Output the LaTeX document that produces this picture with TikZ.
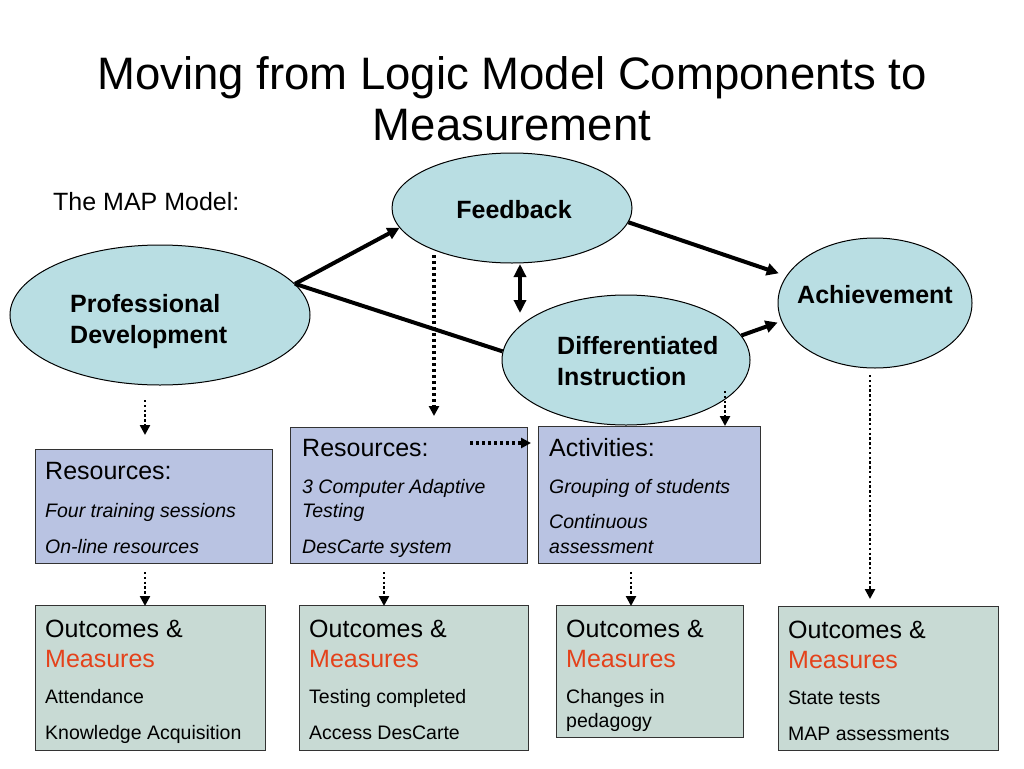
\documentclass[tikz,border=0pt]{standalone}
\usepackage{fontspec}
\setmainfont{Liberation Sans}
\usetikzlibrary{shapes.geometric,arrows.meta}
\definecolor{ellfill}{HTML}{B9DEE3}
\definecolor{resfill}{HTML}{B9C3E2}
\definecolor{outfill}{HTML}{C8DAD4}
\definecolor{measred}{HTML}{E4421B}
\tikzset{
  ell/.style={ellipse,draw=black,line width=1pt,fill=ellfill,inner sep=0pt},
  resbox/.style={draw=black!80,line width=1.3pt,fill=resfill,anchor=north west,inner sep=0pt},
  outbox/.style={draw=black!80,line width=1.3pt,fill=outfill,anchor=north west,inner sep=0pt},
  big/.style={font=\fontsize{25}{30}\selectfont,anchor=base west,inner sep=0pt},
  bigb/.style={font=\fontsize{25}{30}\selectfont\bfseries,anchor=base west,inner sep=0pt},
  small/.style={font=\fontsize{19.5}{23}\selectfont,anchor=base west,inner sep=0pt},
  smalli/.style={font=\fontsize{19.5}{23}\selectfont\itshape,anchor=base west,inner sep=0pt},
  red/.style={text=measred},
  thickarr/.style={line width=4pt,-{Triangle[length=12pt,width=12pt]}},
  thickdbl/.style={line width=4pt,{Triangle[length=13pt,width=12pt]}-{Triangle[length=13pt,width=12pt]}},
  thickline/.style={line width=4pt},
  dotarr/.style={line width=2.4pt,dash pattern=on 2.4pt off 2.4pt,-{Triangle[length=10pt,width=10pt]}},
  dotarrb/.style={line width=3.2pt,dash pattern=on 3pt off 3pt,-{Triangle[length=10pt,width=10pt]}},
}
\begin{document}
\begin{tikzpicture}[x=1pt,y=-1pt]
\useasboundingbox[fill=white] (0,0) rectangle (1024,768);
% title
\node[font=\fontsize{45.5}{51}\selectfont,anchor=base,inner sep=0pt] (t1) at (512,89) {Moving from Logic Model Components to};
\node[font=\fontsize{45.5}{51}\selectfont,anchor=base,inner sep=0pt] (t2) at (512,140) {Measurement};
\node[big] (mapm) at (53,210) {The MAP Model:};
% ellipses
\node[ell,minimum width=240pt,minimum height=110pt] (fb) at (512,208) {};
\node[ell,minimum width=300pt,minimum height=140pt] (pd) at (160,315) {};
\node[ell,minimum width=248pt,minimum height=130pt] (di) at (626,360) {};
\node[ell,minimum width=194pt,minimum height=130pt] (ach) at (875,303) {};
\node[bigb,anchor=base] (fbt) at (514,218) {Feedback};
\node[bigb] (pdt1) at (70,312) {Professional};
\node[bigb] (pdt2) at (70,343) {Development};
\node[bigb] (dit1) at (557,354) {Differentiated};
\node[bigb] (dit2) at (557,385) {Instruction};
\node[bigb,anchor=base] (acht) at (875,303) {Achievement};
% boxes
\node[resbox,minimum width=237pt,minimum height=114pt] (res1) at (35,449) {};
\node[resbox,minimum width=237pt,minimum height=136pt] (res2) at (290,427) {};
\node[resbox,minimum width=222pt,minimum height=137pt] (act) at (538,426) {};
\node[outbox,minimum width=230pt,minimum height=145pt] (out1) at (35,605) {};
\node[outbox,minimum width=229pt,minimum height=145pt] (out2) at (299,605) {};
\node[outbox,minimum width=187pt,minimum height=132pt] (out3) at (556,605) {};
\node[outbox,minimum width=220pt,minimum height=144pt] (out4) at (778,606) {};
% box texts
\node[big] (r1a) at (45,479) {Resources:};
\node[smalli] (r1b) at (45,517) {Four training sessions};
\node[smalli] (r1c) at (45,553) {On-line resources};
\node[big] (r2a) at (302,456) {Resources:};
\node[smalli] (r2b) at (302,493) {3 Computer Adaptive};
\node[smalli] (r2c) at (302,517) {Testing};
\node[smalli] (r2d) at (302,553) {DesCarte system};
\node[big] (aa) at (549,456) {Activities:};
\node[smalli] (ab) at (549,493) {Grouping of students};
\node[smalli] (ac) at (549,528) {Continuous};
\node[smalli] (ad) at (549,553) {assessment};
\node[big] (o1a) at (45,637) {Outcomes \&};
\node[big,red] (o1b) at (45,667) {Measures};
\node[small] (o1c) at (45,703) {Attendance};
\node[small] (o1d) at (45,739) {Knowledge Acquisition};
\node[big] (o2a) at (309,637) {Outcomes \&};
\node[big,red] (o2b) at (309,667) {Measures};
\node[small] (o2c) at (309,703) {Testing completed};
\node[small] (o2d) at (309,739) {Access DesCarte};
\node[big] (o3a) at (566,637) {Outcomes \&};
\node[big,red] (o3b) at (566,667) {Measures};
\node[small] (o3c) at (566,703) {Changes in};
\node[small] (o3d) at (566,727) {pedagogy};
\node[big] (o4a) at (788,638) {Outcomes \&};
\node[big,red] (o4b) at (788,668) {Measures};
\node[small] (o4c) at (788,704) {State tests};
\node[small] (o4d) at (788,740) {MAP assessments};
% solid connectors
\draw[thickarr] (pd.13) -- (fb.190);
\draw[thickline] (pd.13) -- (di.176);
\draw[thickarr,shorten >=8pt] (fb.-7) -- (ach.163);
\draw[thickarr,shorten >=4pt] (di.12) -- (ach.191);
\coordinate (dbA) at (520,264);
\coordinate (dbB) at (520,313);
\draw[thickdbl] (dbA) -- (dbB);
% dotted connectors
\coordinate (d1s) at (145,400); \coordinate (d1e) at (145,435);
\coordinate (d2s) at (434,255); \coordinate (d2e) at (434,416);
\coordinate (d3s) at (725,391); \coordinate (d3e) at (725,426);
\coordinate (d4s) at (870,375); \coordinate (d4e) at (870,599);
\coordinate (d5s) at (470,443); \coordinate (d5e) at (531,443);
\coordinate (d6s) at (145,572); \coordinate (d6e) at (145,606);
\coordinate (d7s) at (384,572); \coordinate (d7e) at (384,606);
\coordinate (d8s) at (631,572); \coordinate (d8e) at (631,606);
\foreach \i in {1,3,4,6,7,8} {\draw[dotarr] (d\i s) -- (d\i e);}
\foreach \i in {2,5} {\draw[dotarrb] (d\i s) -- (d\i e);}
\end{tikzpicture}
\end{document}
